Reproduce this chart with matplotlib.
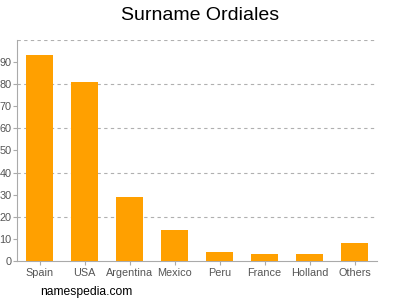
import matplotlib
matplotlib.use("Agg")
import matplotlib.pyplot as plt

categories = ["Spain", "USA", "Argentina", "Mexico", "Peru", "France", "Holland", "Others"]
values = [93, 81, 29, 14, 4, 3, 3, 8]
yticks = [0, 10, 20, 30, 40, 50, 60, 70, 80, 90]
grid_levels = [20, 40, 60, 80, 100]

plt.rcParams['font.family'] = ['Liberation Sans', 'DejaVu Sans']
fig = plt.figure(figsize=(4, 3), dpi=100)
ax = fig.add_axes([0.0425, 0.13, 0.9, 0.7367])

x = list(range(len(categories)))
ax.bar(x, values, width=0.62, color="#ffa000", zorder=3)
for g in grid_levels:
    ax.axhline(g, color="#b0b0b0", linestyle=(0, (3, 3)), linewidth=0.8, zorder=1)

ax.set_xlim(-0.5, len(categories) - 0.5)
ax.set_ylim(0, 100)
ax.set_yticks(yticks)
ax.set_xticks(x)
ax.set_xticklabels(categories)
ax.tick_params(axis='both', colors="#aaaaaa", labelcolor="#555555", labelsize=7.8, length=3, width=0.8)
ax.tick_params(axis='x', pad=2)
ax.tick_params(axis='y', pad=1)
for s in ["top", "right"]:
    ax.spines[s].set_visible(False)
for s in ["left", "bottom"]:
    ax.spines[s].set_color("#aaaaaa")
    ax.spines[s].set_linewidth(0.8)

fig.text(0.5, 0.95, "Surname Ordiales", ha="center", va="center", fontsize=14, color="#000000")
fig.text(0.1, 0.027, "namespedia.com", ha="left", va="center", fontsize=8.7, color="#000000")

fig.savefig("out.png", dpi=100)
